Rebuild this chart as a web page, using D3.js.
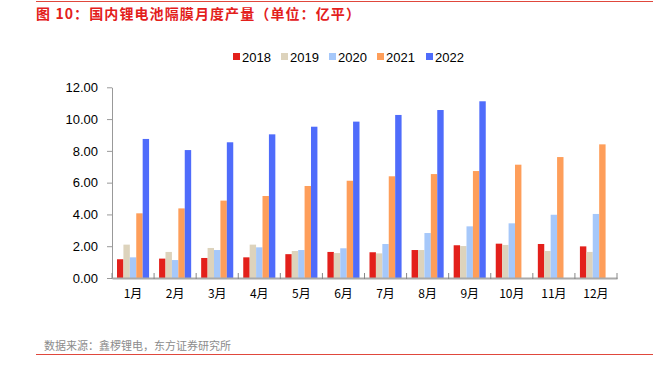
<!DOCTYPE html>
<html><head><meta charset="utf-8">
<script src="https://cdn.jsdelivr.net/npm/d3@7"></script>
<style>body{margin:0;background:#fff}svg{display:block}</style>
</head><body><svg id="c" width="665" height="366"></svg>
<script>
const months = ["1月","2月","3月","4月","5月","6月","7月","8月","9月","10月","11月","12月"];
const seriesNames = ["2018","2019","2020","2021","2022"];
const s2018 = [1.18,1.22,1.26,1.30,1.50,1.64,1.62,1.76,2.06,2.16,2.14,1.99];
const s2019 = [2.10,1.64,1.89,2.10,1.70,1.57,1.55,1.76,2.01,2.08,1.70,1.64];
const s2020 = [1.30,1.13,1.76,1.93,1.76,1.87,2.14,2.83,3.25,3.44,3.98,4.03];
const s2021 = [4.07,4.38,4.87,5.16,5.79,6.12,6.40,6.54,6.73,7.13,7.61,8.41];
const s2022 = [8.75,8.05,8.54,9.04,9.52,9.84,10.26,10.57,11.12,null,null,null];
const yTicks = [0,2,4,6,8,10,12];
const colors = ["#e3201b","#ddd3bc","#a6c8fa","#fe9e5a","#4f6cfb"];
const allSeries = [s2018,s2019,s2020,s2021,s2022];

const svg = d3.select("#c");
const font = "'Liberation Sans', Arial, sans-serif";
const cjk = "'Noto Sans CJK SC', sans-serif";

// frame lines
svg.append("line").attr("x1",36).attr("x2",653).attr("y1",1.5).attr("y2",1.5).attr("stroke","#e0473c").attr("stroke-width",1);
svg.append("line").attr("x1",36).attr("x2",653).attr("y1",354.5).attr("y2",354.5).attr("stroke","#e0473c").attr("stroke-width",1);

svg.append("text").attr("x",36).attr("y",19).attr("fill","#e3201b").attr("font-family",cjk)
  .attr("font-size",14).attr("font-weight","bold").attr("letter-spacing",1.1)
  .text("图 10：国内锂电池隔膜月度产量（单位：亿平）");

svg.append("text").attr("x",44).attr("y",350).attr("fill","#8c8c8c").attr("font-family",cjk)
  .attr("font-size",11).text("数据来源：鑫椤锂电，东方证券研究所");

const x0 = d3.scaleBand().domain(months).range([112,617]).paddingInner(0).paddingOuter(0);
const x1 = d3.scaleBand().domain(seriesNames).range([5, x0.bandwidth()-5]);
const y = d3.scaleLinear().domain([0,12]).range([278,87.3]);

// y axis
const yAxis = svg.append("g").attr("transform","translate(112,0)")
  .call(d3.axisLeft(y).tickValues(yTicks).tickFormat(d3.format(".2f")).tickSize(5).tickSizeOuter(0));
yAxis.select(".domain").attr("stroke","#999");
yAxis.selectAll(".tick line").attr("stroke","#999");
yAxis.selectAll(".tick text").attr("font-family",font).attr("font-size",13).attr("fill","#000").attr("x",-14);

// bars
const groups = svg.append("g").selectAll("g").data(months).join("g")
  .attr("transform",d=>`translate(${x0(d)},0)`);
groups.selectAll("rect").data((m,i)=>seriesNames.map((s,j)=>({s,v:allSeries[j][i],c:colors[j]})).filter(d=>d.v!=null))
  .join("rect")
  .attr("x",d=>x1(d.s)).attr("width",x1.bandwidth())
  .attr("y",d=>y(d.v)).attr("height",d=>y(0)-y(d.v)).attr("fill",d=>d.c);

// x axis
const xAxis = svg.append("g").attr("transform","translate(0,278)")
  .call(d3.axisBottom(x0).tickSize(0).tickSizeOuter(0));
xAxis.select(".domain").attr("stroke","#aaa").attr("stroke-width",2);
xAxis.selectAll(".tick text").attr("font-family",cjk).attr("font-size",12).attr("fill","#000").attr("dy","1.35em").attr("y",4);
// boundary ticks
svg.append("g").selectAll("line").data(d3.range(13)).join("line")
  .attr("x1",i=>112+i*x0.bandwidth()).attr("x2",i=>112+i*x0.bandwidth())
  .attr("y1",273).attr("y2",279).attr("stroke","#888");

// legend
const legX = [233,281,329,377,426];
const leg = svg.append("g").selectAll("g").data(seriesNames).join("g")
  .attr("transform",(d,i)=>`translate(${legX[i]},0)`);
leg.append("rect").attr("x",0).attr("y",53).attr("width",7).attr("height",7).attr("fill",(d,i)=>colors[i]);
leg.append("text").attr("x",9).attr("y",61.5).attr("font-family",font).attr("font-size",13).attr("fill","#000").text(d=>d);
</script></body></html>
